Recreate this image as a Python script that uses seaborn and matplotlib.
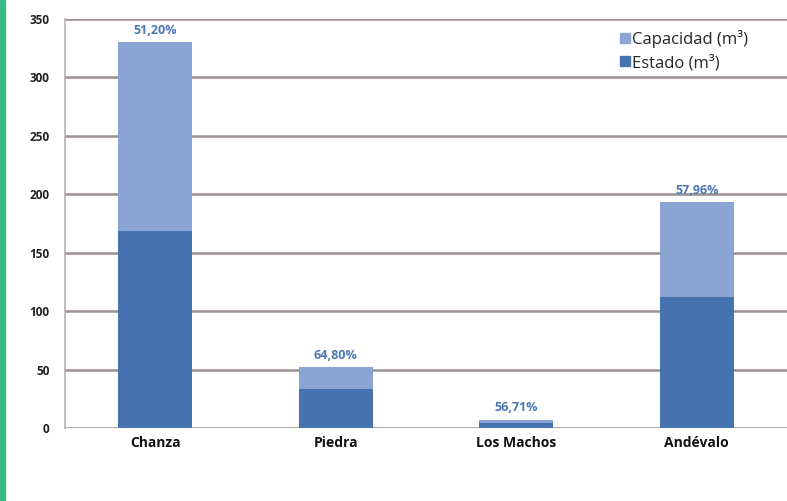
import matplotlib
matplotlib.use("Agg")
import matplotlib.pyplot as plt
import matplotlib.patches as mpatches
import seaborn as sns
import pandas as pd

categories = ["Chanza", "Piedra", "Los Machos", "Andévalo"]
capacidad = [330, 52, 7, 193]
estado = [169, 33.7, 4, 112]
pct_labels = ["51,20%", "64,80%", "56,71%", "57,96%"]
yticks = [0, 50, 100, 150, 200, 250, 300, 350]

LIGHT = "#8aa5d3"
DARK = "#4673b0"
GRID = "#9a9090"
LBL = "#4a77b6"

sns.set_style("white")
plt.rcParams['font.family'] = ['Open Sans', 'DejaVu Sans']

df = pd.DataFrame({"cat": categories, "cap": capacidad, "est": estado})

fig = plt.figure(figsize=(7.87, 5.01), dpi=100)
fig.patches.append(mpatches.Rectangle((0, 0), 5 / 787, 1, transform=fig.transFigure,
                                      color="#3dba8a", zorder=0))
ax = fig.add_axes([65 / 787, 1 - 428 / 501, 1 - 65 / 787, (428 - 19) / 501])

sns.barplot(data=df, x="cat", y="cap", color=LIGHT, width=0.41, ax=ax,
            saturation=1, zorder=3, linewidth=0)
sns.barplot(data=df, x="cat", y="est", color=DARK, width=0.41, ax=ax,
            saturation=1, zorder=4, linewidth=0)

ax.set_ylim(0, 350)
ax.set_xlim(-0.5, 3.5)
ax.set_yticks(yticks)
ax.set_yticklabels([str(v) for v in yticks], fontsize=8.5, fontweight="bold",
                   color="#222222")
ax.tick_params(axis="y", length=5, width=1, color=GRID, pad=6)
ax.set_xlabel("")
ax.set_ylabel("")
ax.set_xticks(range(len(categories)))
ax.set_xticklabels(categories, fontsize=10, fontweight="bold", color="#111111")
ax.tick_params(axis="x", length=0, pad=6)
ax.set_xticks([0.5, 1.5, 2.5], minor=True)
ax.tick_params(axis="x", which="minor", length=4, width=1, color=GRID)

ax.yaxis.grid(True, color=GRID, lw=1.8)
ax.set_axisbelow(True)
for s in ["top", "right", "bottom"]:
    ax.spines[s].set_visible(False)
ax.spines["left"].set_color("#b8b0b0")
ax.spines["left"].set_linewidth(1.2)

for i, (c, t) in enumerate(zip(capacidad, pct_labels)):
    ax.annotate(t, (i, c), xytext=(0, 4), textcoords="offset points",
                ha="center", va="bottom", fontsize=9, fontweight="bold",
                color=LBL, zorder=6)

handles = [mpatches.Patch(color=LIGHT, label="Capacidad (m³)"),
           mpatches.Patch(color=DARK, label="Estado (m³)")]
leg = ax.legend(handles=handles, loc="upper left", bbox_to_anchor=(0.76, 0.99),
                frameon=False, fontsize=12, handlelength=0.55, handleheight=0.55,
                handletextpad=0.12, labelspacing=0.42, borderaxespad=0)
leg.set_zorder(7)

fig.savefig("out.png", dpi=100)
